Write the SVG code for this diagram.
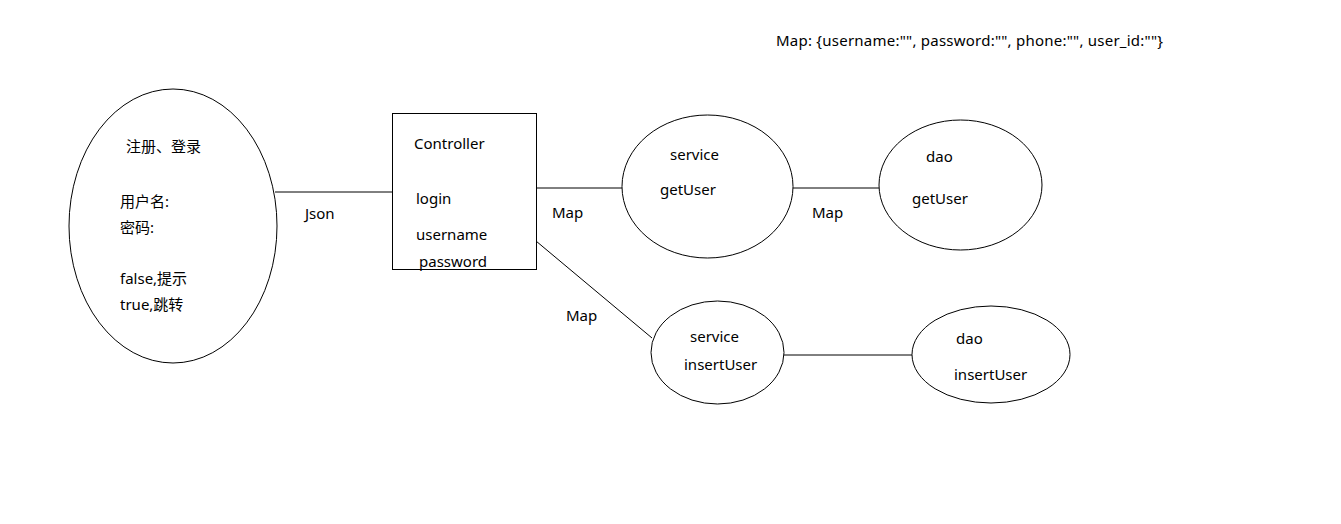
<svg xmlns="http://www.w3.org/2000/svg" width="1341" height="524" viewBox="0 0 1341 524">
<style>
.s{fill:none;stroke:#000;stroke-width:1}
text{font-family:"Noto Sans","Noto Sans CJK SC",sans-serif;font-size:15px;fill:#000}
</style>
<rect width="1341" height="524" fill="#fff"/>
<text x="776" y="46" textLength="387">Map: {username:"", password:"", phone:"", user_id:""}</text>
<g id="connectors">
<line class="s" x1="275" y1="192" x2="392" y2="192"/>
<line class="s" x1="536" y1="188" x2="622" y2="188"/>
<line class="s" x1="793" y1="188" x2="879" y2="188"/>
<line class="s" x1="536" y1="241" x2="652" y2="338"/>
<line class="s" x1="784" y1="355" x2="912" y2="355"/>
<text x="305" y="219">Json</text>
<text x="552" y="218">Map</text>
<text x="812" y="218">Map</text>
<text x="566" y="321">Map</text>
</g>
<g id="client">
<ellipse class="s" cx="173" cy="226" rx="104" ry="137"/>
<text x="126" y="152">注册、登录</text>
<text x="120" y="207">用户名:</text>
<text x="120" y="233">密码:</text>
<text x="120" y="284">false,提示</text>
<text x="120" y="310">true,跳转</text>
</g>
<g id="controller">
<rect class="s" x="392.5" y="113.5" width="144" height="156"/>
<text x="414" y="149">Controller</text>
<text x="416" y="204">login</text>
<text x="416" y="240">username</text>
<text x="419" y="267">password</text>
</g>
<g id="service-get">
<ellipse class="s" cx="707.5" cy="186.5" rx="85.5" ry="71.5"/>
<text x="670" y="160">service</text>
<text x="660" y="195">getUser</text>
</g>
<g id="dao-get">
<ellipse class="s" cx="960.5" cy="185" rx="81.5" ry="65"/>
<text x="926" y="162">dao</text>
<text x="912" y="204">getUser</text>
</g>
<g id="service-insert">
<ellipse class="s" cx="717.5" cy="352.5" rx="66.5" ry="51.5"/>
<text x="690" y="342">service</text>
<text x="684" y="370">insertUser</text>
</g>
<g id="dao-insert">
<ellipse class="s" cx="991" cy="354.5" rx="79" ry="48.5"/>
<text x="956" y="344">dao</text>
<text x="954" y="380">insertUser</text>
</g>
</svg>
